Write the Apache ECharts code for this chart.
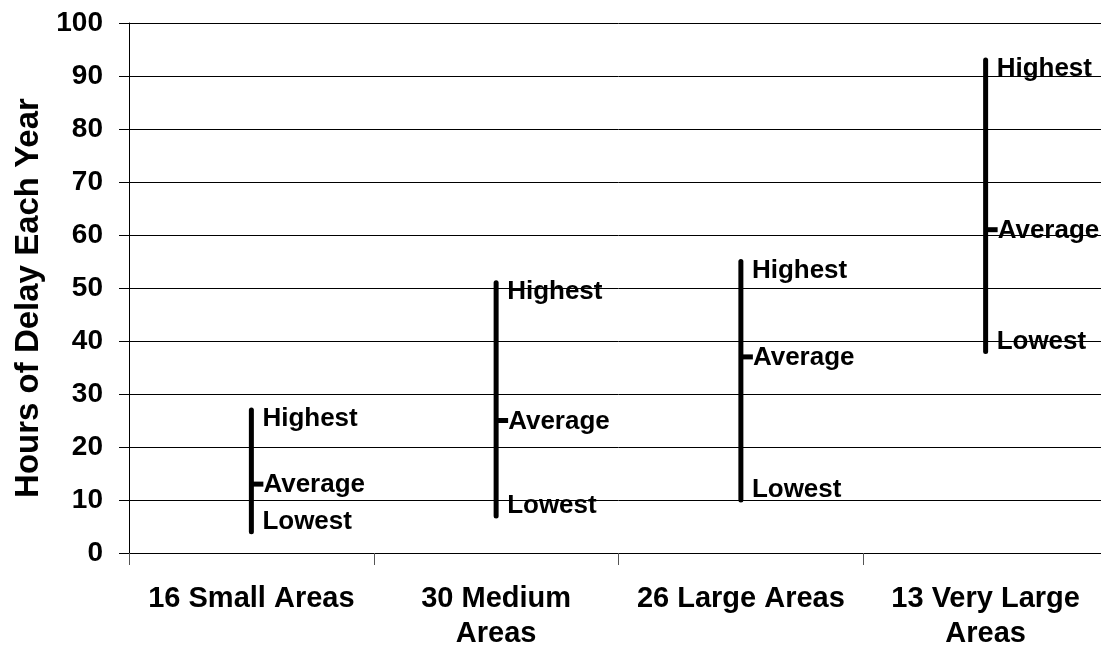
<!DOCTYPE html>
<html>
<head>
<meta charset="utf-8">
<script src="https://cdn.jsdelivr.net/npm/echarts@6/dist/echarts.min.js"></script>
<style>
  html, body { margin: 0; padding: 0; background: #fff; overflow: hidden; }
  /* plot runs a few px past the right edge of the window, as in the source image */
  #main { width: 1108px; height: 647px; }
</style>
</head>
<body>
<div id="main"></div>
<script>
// categories and values
var categories = ['16 Small Areas', '30 Medium\nAreas', '26 Large Areas', '13 Very Large\nAreas'];
var lowest = [4, 7, 10, 38];
var average = [13, 25, 37, 61];
var highest = [27, 51, 55, 93];
var yTicks = { min: 0, max: 100, step: 10 };
var markNames = { high: 'Highest', avg: 'Average', low: 'Lowest' };

var FONT = 'Liberation Sans, Arial, sans-serif';

var chart = echarts.init(document.getElementById('main'));

var rows = categories.map(function (c, i) {
  return [i, lowest[i], average[i], highest[i]];
});

function labelText (txt, x, y, vAlign) {
  return {
    type: 'text',
    style: {
      text: txt,
      x: x,
      y: y,
      align: 'left',
      verticalAlign: vAlign,
      fontFamily: FONT,
      fontSize: 26,
      fontWeight: 'bold',
      fill: '#000'
    }
  };
}

var option = {
  animation: false,
  // fixed plot box, labels may sit outside it
  grid: { left: 129, top: 23, right: 0, bottom: 94, outerBoundsMode: 'none', containLabel: false },
  xAxis: {
    type: 'category',
    data: categories,
    boundaryGap: true,
    axisLine: { lineStyle: { color: '#000', width: 1 } },
    axisTick: { show: true, interval: 0, length: 12, lineStyle: { color: '#555' } },
    axisLabel: {
      interval: 0,
      margin: 28,
      color: '#000',
      fontFamily: FONT,
      fontSize: 29,
      fontWeight: 'bold',
      lineHeight: 35
    }
  },
  yAxis: {
    type: 'value',
    min: yTicks.min,
    max: yTicks.max,
    interval: yTicks.step,
    name: 'Hours of Delay Each Year',
    nameLocation: 'middle',
    nameRotate: 90,
    nameGap: 82,
    nameTextStyle: {
      color: '#000', fontFamily: FONT, fontSize: 33, fontWeight: 'bold',
      padding: [0, 20, 0, 0]
    },
    axisLine: { show: true, lineStyle: { color: '#000', width: 1 } },
    axisTick: { show: true, length: 10, lineStyle: { color: '#000' } },
    splitLine: { lineStyle: { color: '#000', width: 1 } },
    axisLabel: {
      margin: 26,
      color: '#000',
      fontFamily: FONT,
      fontSize: 28,
      fontWeight: 'bold'
    }
  },
  series: [{
    type: 'custom',
    data: rows,
    encode: { x: 0, y: [1, 2, 3] },
    renderItem: function (params, api) {
      var idx = api.value(0);
      var pLow = api.coord([idx, api.value(1)]);
      var pAvg = api.coord([idx, api.value(2)]);
      var pHigh = api.coord([idx, api.value(3)]);
      var tx = pHigh[0] + 11;
      return {
        type: 'group',
        children: [
          {
            type: 'line',
            shape: { x1: pLow[0], y1: pLow[1], x2: pHigh[0], y2: pHigh[1] },
            style: { stroke: '#000', lineWidth: 5, lineCap: 'round' }
          },
          {
            type: 'line',
            shape: { x1: pAvg[0], y1: pAvg[1], x2: pAvg[0] + 12, y2: pAvg[1] },
            style: { stroke: '#000', lineWidth: 5 }
          },
          labelText(markNames.high, tx, pHigh[1] - 4, 'top'),
          labelText(markNames.avg, tx + 1, pAvg[1] + 1, 'middle'),
          labelText(markNames.low, tx, pLow[1] + 3, 'bottom')
        ]
      };
    }
  }]
};

chart.setOption(option);
</script>
</body>
</html>
